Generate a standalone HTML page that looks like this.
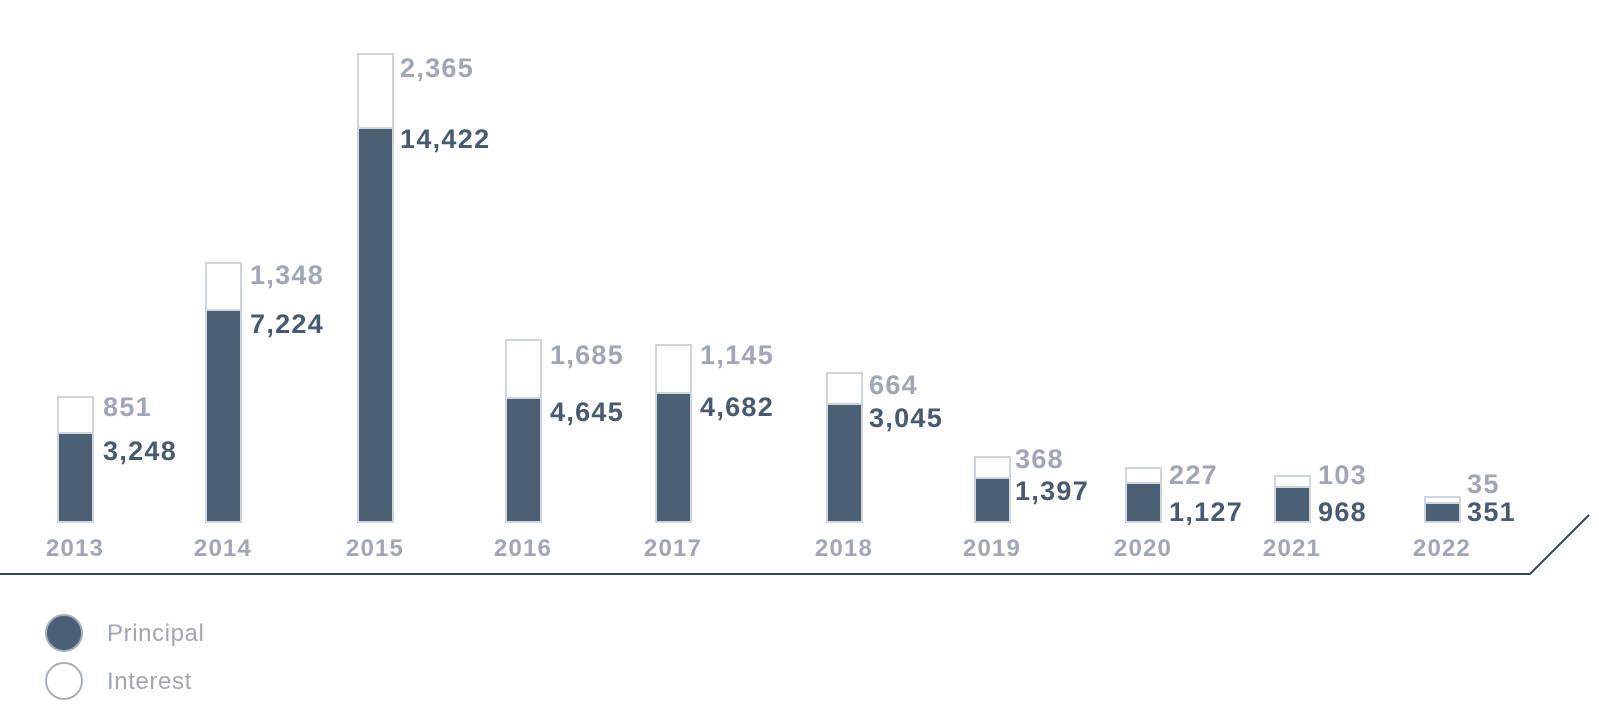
<!DOCTYPE html>
<html><head><meta charset="utf-8"><style>
html,body{margin:0;padding:0;background:#fff;width:1599px;height:722px;overflow:hidden}
svg{display:block}
text{font-family:"Liberation Sans",sans-serif}
.i{fill:#a0a6b4;font-size:27px;font-weight:bold;letter-spacing:1.3px}
.p{fill:#475a70;font-size:27px;font-weight:bold;letter-spacing:1.3px}
.y{fill:#a0a6b4;font-size:24px;font-weight:bold;letter-spacing:1.2px}
.l{fill:#a0a6b4;font-size:24px;letter-spacing:0.6px}
</style></head><body>
<svg width="1599" height="722" viewBox="0 0 1599 722">
<g stroke="#d0d4dd" stroke-width="2">
<rect x="58" y="397" width="35" height="125" fill="#fff"/><rect x="58" y="433" width="35" height="89" fill="#4b5f75"/>
<rect x="206" y="263" width="35" height="259" fill="#fff"/><rect x="206" y="310" width="35" height="212" fill="#4b5f75"/>
<rect x="358" y="54" width="35" height="468" fill="#fff"/><rect x="358" y="128" width="35" height="394" fill="#4b5f75"/>
<rect x="506" y="340" width="35" height="182" fill="#fff"/><rect x="506" y="398" width="35" height="124" fill="#4b5f75"/>
<rect x="656" y="345" width="35" height="177" fill="#fff"/><rect x="656" y="393" width="35" height="129" fill="#4b5f75"/>
<rect x="827" y="373" width="35" height="149" fill="#fff"/><rect x="827" y="404" width="35" height="118" fill="#4b5f75"/>
<rect x="975" y="457" width="35" height="65" fill="#fff"/><rect x="975" y="478" width="35" height="44" fill="#4b5f75"/>
<rect x="1126" y="468" width="35" height="54" fill="#fff"/><rect x="1126" y="483" width="35" height="39" fill="#4b5f75"/>
<rect x="1275" y="476" width="35" height="46" fill="#fff"/><rect x="1275" y="487" width="35" height="35" fill="#4b5f75"/>
<rect x="1425" y="497" width="35" height="25" fill="#fff"/><rect x="1425" y="503" width="35" height="19" fill="#4b5f75"/>
</g>
<text class="i" x="103" y="416">851</text><text class="p" x="103" y="460">3,248</text>
<text class="i" x="250" y="284">1,348</text><text class="p" x="250" y="333">7,224</text>
<text class="i" x="400" y="77">2,365</text><text class="p" x="400" y="148">14,422</text>
<text class="i" x="550" y="364">1,685</text><text class="p" x="550" y="421">4,645</text>
<text class="i" x="700" y="364">1,145</text><text class="p" x="700" y="416">4,682</text>
<text class="i" x="869" y="394">664</text><text class="p" x="869" y="427">3,045</text>
<text class="i" x="1015" y="468">368</text><text class="p" x="1015" y="500">1,397</text>
<text class="i" x="1169" y="484">227</text><text class="p" x="1169" y="521">1,127</text>
<text class="i" x="1318" y="484">103</text><text class="p" x="1318" y="521">968</text>
<text class="i" x="1467" y="493">35</text><text class="p" x="1467" y="521">351</text>
<g text-anchor="middle">
<text class="y" x="75" y="556">2013</text><text class="y" x="223" y="556">2014</text>
<text class="y" x="375" y="556">2015</text><text class="y" x="523" y="556">2016</text>
<text class="y" x="673" y="556">2017</text><text class="y" x="844" y="556">2018</text>
<text class="y" x="992" y="556">2019</text><text class="y" x="1143" y="556">2020</text>
<text class="y" x="1292" y="556">2021</text><text class="y" x="1442" y="556">2022</text>
</g>
<polyline points="0,574 1530,574 1589,515" fill="none" stroke="#2e4a60" stroke-width="2"/>
<circle cx="64" cy="633" r="18" fill="#4b5f75" stroke="#a8adb9" stroke-width="2"/>
<circle cx="64" cy="681" r="18" fill="#fff" stroke="#a8adb9" stroke-width="2"/>
<text class="l" x="107" y="641">Principal</text>
<text class="l" x="107" y="689">Interest</text>
</svg>
</body></html>
